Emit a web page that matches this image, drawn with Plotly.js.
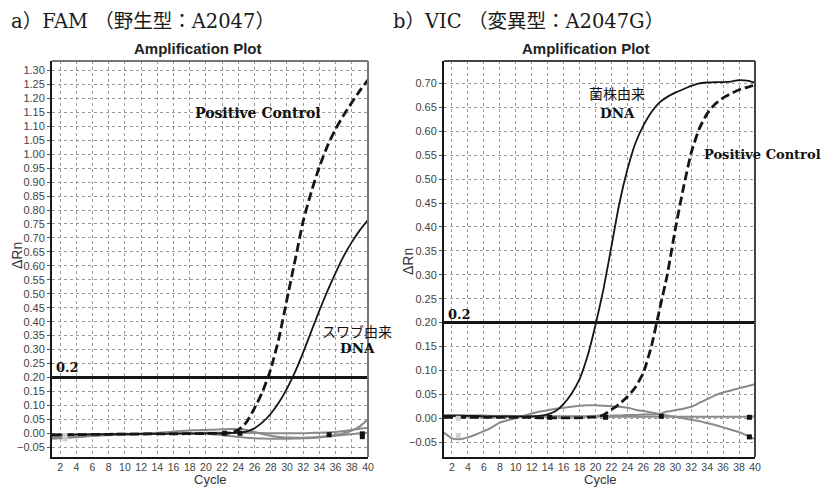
<!DOCTYPE html>
<html><head><meta charset="utf-8">
<script src="https://cdn.plot.ly/plotly-3.0.1.min.js"></script>
<style>html,body{margin:0;padding:0;background:#fff}#chart{width:827px;height:488px}</style>
</head><body><div id="chart"></div>
<script>
// ---- data ----
const cycles = [1,2,3,4,5,6,7,8,9,10,11,12,13,14,15,16,17,18,19,20,21,22,23,24,25,26,27,28,29,30,31,32,33,34,35,36,37,38,39,40];
const xTicks = [2,4,6,8,10,12,14,16,18,20,22,24,26,28,30,32,34,36,38,40];
const threshold = 0.2;

// a) FAM
const famPositive = [-0.006,-0.006,-0.005,-0.005,-0.005,-0.004,-0.004,-0.004,-0.003,-0.003,-0.003,-0.003,-0.002,-0.002,-0.002,-0.002,-0.002,-0.001,-0.001,-0.001,0.000,0.000,0.002,0.012,0.040,0.090,0.150,0.230,0.340,0.480,0.620,0.760,0.865,0.955,1.030,1.090,1.140,1.185,1.228,1.266];
const famSample = [-0.005,-0.005,-0.005,-0.004,-0.004,-0.004,-0.004,-0.003,-0.003,-0.003,-0.003,-0.002,-0.002,-0.002,-0.002,-0.001,-0.001,-0.001,-0.001,0.000,0.000,0.000,0.001,0.002,0.006,0.018,0.040,0.070,0.110,0.160,0.220,0.290,0.365,0.440,0.510,0.575,0.635,0.685,0.728,0.765];
const famGray1 = [-0.015,-0.014,-0.012,-0.010,-0.009,-0.008,-0.007,-0.006,-0.005,-0.004,-0.003,-0.002,0.000,0.002,0.004,0.006,0.008,0.010,0.011,0.012,0.013,0.014,0.015,0.015,0.012,0.005,-0.003,-0.009,-0.013,-0.015,-0.016,-0.016,-0.015,-0.013,-0.010,-0.006,0.000,0.010,0.025,0.050];
const famGray2 = [-0.020,-0.018,-0.016,-0.014,-0.012,-0.010,-0.008,-0.007,-0.006,-0.005,-0.004,-0.003,-0.002,-0.001,0.000,0.000,0.000,0.000,-0.001,-0.002,-0.004,-0.007,-0.010,-0.013,-0.016,-0.018,-0.019,-0.020,-0.020,-0.020,-0.019,-0.018,-0.017,-0.015,-0.012,-0.009,-0.006,-0.003,0.000,0.002];
const famGray3 = [-0.010,-0.009,-0.008,-0.007,-0.006,-0.005,-0.004,-0.003,-0.002,-0.002,-0.001,-0.001,0.000,0.000,0.000,0.000,0.001,0.001,0.001,0.002,0.002,0.002,0.002,0.002,0.002,0.001,0.001,0.000,0.000,0.000,0.000,0.000,0.001,0.002,0.003,0.005,0.008,0.012,0.016,0.020];
const famMarkX = [22.3,24.2,35.2,39.3,39.3];
const famMarkY = [0.000,0.000,-0.005,-0.002,-0.012];
const famLightX = [2.6,2.6];
const famLightY = [-0.008,-0.020];

// b) VIC
const vicSample = [0.005,0.005,0.005,0.005,0.005,0.004,0.004,0.004,0.004,0.004,0.004,0.004,0.005,0.008,0.015,0.030,0.052,0.082,0.130,0.195,0.270,0.360,0.450,0.520,0.575,0.612,0.640,0.660,0.672,0.681,0.688,0.695,0.700,0.702,0.703,0.703,0.704,0.707,0.706,0.702];
const vicPositive = [0.002,0.002,0.002,0.002,0.002,0.002,0.002,0.002,0.002,0.002,0.002,0.002,0.001,0.001,0.001,0.001,0.001,0.001,0.002,0.003,0.007,0.018,0.030,0.045,0.065,0.095,0.150,0.225,0.300,0.395,0.480,0.555,0.605,0.637,0.657,0.670,0.679,0.687,0.692,0.697];
const vicGray1 = [-0.030,-0.042,-0.044,-0.040,-0.034,-0.027,-0.019,-0.009,-0.004,0.000,0.005,0.010,0.014,0.017,0.020,0.022,0.024,0.026,0.027,0.027,0.026,0.025,0.024,0.022,0.018,0.015,0.012,0.009,0.006,0.003,0.000,-0.003,-0.006,-0.010,-0.014,-0.019,-0.024,-0.029,-0.036,-0.044];
const vicGray2 = [0.007,0.007,0.007,0.006,0.006,0.006,0.005,0.005,0.005,0.004,0.004,0.004,0.004,0.004,0.004,0.004,0.004,0.004,0.004,0.005,0.005,0.006,0.006,0.007,0.007,0.008,0.008,0.009,0.014,0.017,0.020,0.024,0.032,0.040,0.048,0.054,0.058,0.063,0.067,0.071];
const vicGray3 = [0.004,0.004,0.004,0.003,0.003,0.003,0.003,0.003,0.003,0.003,0.003,0.003,0.003,0.003,0.003,0.003,0.003,0.003,0.003,0.003,0.003,0.003,0.003,0.003,0.003,0.003,0.003,0.003,0.003,0.003,0.003,0.003,0.003,0.003,0.003,0.003,0.003,0.003,0.003,0.004];
const vicMarkX = [14.25,21.25,28.25,39.3,39.3];
const vicMarkY = [0.002,0.002,0.004,0.002,-0.039];
const vicLightX = [2.8,2.8];
const vicLightY = [0.000,-0.036];

// ---- styling ----
const W = 827, H = 488;
const px = x => x / W, py = y => 1 - y / H;
const GRAY = '#8a8a8a', BLACK = '#161616';

function grayLine(y, xa, ya){ return {x: cycles, y: y, xaxis: xa, yaxis: ya, mode:'lines', line:{color:GRAY, width:2, shape:'spline', smoothing:0.5}, hoverinfo:'skip'}; }
function blackLine(y, xa, ya, dashed){ return {x: cycles, y: y, xaxis: xa, yaxis: ya, mode:'lines', line:{color:BLACK, width: dashed?2.8:1.8, dash: dashed?'9px,4px':'solid', shape:'spline', smoothing:0.5}, hoverinfo:'skip'}; }
function thrLine(xa, ya){ return {x:[cycles[0], cycles[cycles.length-1]], y:[threshold, threshold], xaxis:xa, yaxis:ya, mode:'lines', line:{color:BLACK, width:3}, hoverinfo:'skip'}; }
function marks(xs, ys, xa, ya, c, sz){ return {x:xs, y:ys, xaxis:xa, yaxis:ya, mode:'markers', marker:{symbol:'square', color:c, size:sz}, hoverinfo:'skip'}; }

const data = [
  grayLine(famGray2,'x','y'), grayLine(famGray3,'x','y'), grayLine(famGray1,'x','y'),
  blackLine(famSample,'x','y',false), blackLine(famPositive,'x','y',true),
  thrLine('x','y'),
  marks(famLightX, famLightY,'x','y','#d0d0d0',5), marks(famMarkX, famMarkY,'x','y','#111',5),
  grayLine(vicGray3,'x2','y2'), grayLine(vicGray2,'x2','y2'), grayLine(vicGray1,'x2','y2'),
  blackLine(vicSample,'x2','y2',false), blackLine(vicPositive,'x2','y2',true),
  thrLine('x2','y2'),
  marks(vicLightX, vicLightY,'x2','y2','#d0d0d0',5), marks(vicMarkX, vicMarkY,'x2','y2','#111',5)
];

const tickFont = {family:'Liberation Sans, Arial, sans-serif', size:11, color:'#444'};
const xTickFont = {family:'Liberation Sans, Arial, sans-serif', size:10.5, color:'#444'};
function xAxis(d0, d1, anchor){ return {domain:[px(d0), px(d1)], anchor:anchor, range:[1,40], tickmode:'array', tickvals:xTicks, ticktext:xTicks.map(String),
  showgrid:true, gridcolor:'#9a9a9a', gridwidth:1, griddash:'3px,3px', zeroline:false, showline:true, linecolor:BLACK, linewidth:1.5,
  ticks:'', tickfont:xTickFont, fixedrange:true}; }
function yAxis(top, bottom, r0, r1, anchor){ return {domain:[py(bottom), py(top)], anchor:anchor, range:[r0, r1], tick0:0, dtick:0.05, tickformat:'.2f',
  showgrid:true, gridcolor:'#9a9a9a', gridwidth:1, griddash:'3px,3px', zeroline:false, showline:true, linecolor:BLACK, linewidth:2,
  ticks:'outside', ticklen:3, tickcolor:'#555', tickfont:tickFont, fixedrange:true}; }

const serif = 'DejaVu Serif, Noto Sans CJK JP, serif';
const sans = 'Liberation Sans, Arial, sans-serif';
const cjk = 'Noto Sans CJK JP, sans-serif';
function ann(text, x, y, opt){ return Object.assign({text:text, xref:'paper', yref:'paper', x:px(x), y:py(y), showarrow:false, xanchor:'center', yanchor:'middle'}, opt); }

const annotations = [
  ann('a）FAM （野生型：A2047）', 9, 21, {xanchor:'left', font:{family:serif, size:19.5, color:'#1a1a1a'}}),
  ann('b）VIC （変異型：A2047G）', 391, 21, {xanchor:'left', font:{family:serif, size:19.5, color:'#1a1a1a'}}),
  ann('<b>Amplification Plot</b>', 198, 48, {font:{family:sans, size:15, color:'#222'}}),
  ann('<b>Amplification Plot</b>', 586, 48, {font:{family:sans, size:15, color:'#222'}}),
  ann('ΔRn', 17, 256, {textangle:-90, font:{family:sans, size:14, color:'#333'}}),
  ann('ΔRn', 408, 262, {textangle:-90, font:{family:sans, size:14, color:'#333'}}),
  ann('Cycle', 210, 487.5, {yanchor:'bottom', borderpad:0, font:{family:sans, size:13, color:'#333'}}),
  ann('Cycle', 600, 487.5, {yanchor:'bottom', borderpad:0, font:{family:sans, size:13, color:'#333'}}),
  ann('<b>0.2</b>', 54, 367, {xanchor:'left', font:{family:serif, size:13, color:'#111'}}),
  ann('<b>0.2</b>', 446, 314, {xanchor:'left', font:{family:serif, size:13, color:'#111'}}),
  ann('<b>Positive Control</b>', 323, 113, {xanchor:'right', font:{family:serif, size:14, color:'#111'}}),
  ann('<b>Positive Control</b>', 702, 154, {xanchor:'left', font:{family:serif, size:13, color:'#111'}}),
  ann('スワブ由来', 357, 331, {font:{family:cjk, size:14, color:'#111'}}),
  ann('<b>DNA</b>', 357, 348, {font:{family:serif, size:13.5, color:'#111'}}),
  ann('菌株由来', 617, 93, {font:{family:cjk, size:14, color:'#111'}}),
  ann('<b>DNA</b>', 617, 113, {font:{family:serif, size:13.5, color:'#111'}})
];

function border(xr, yr, col){ return [
  {type:'line', xref:xr+' domain', yref:yr+' domain', x0:0, x1:1, y0:1, y1:1, line:{color:col, width:2}},
  {type:'line', xref:xr+' domain', yref:yr+' domain', x0:1, x1:1, y0:0, y1:1, line:{color:col, width:2}}
]; }

const layout = {
  width:W, height:H, margin:{l:0, r:0, t:0, b:0}, paper_bgcolor:'#fff', plot_bgcolor:'#fff', showlegend:false,
  xaxis: xAxis(52, 368, 'y'),
  yaxis: yAxis(61, 457, -0.085, 1.334, 'x'),
  xaxis2: xAxis(444, 755, 'y2'),
  yaxis2: yAxis(61, 457, -0.081, 0.747, 'x2'),
  annotations: annotations,
  shapes: border('x','y','#777').concat(border('x2','y2','#444'))
};

Plotly.newPlot('chart', data, layout, {staticPlot:true, displayModeBar:false});
</script>
</body></html>
